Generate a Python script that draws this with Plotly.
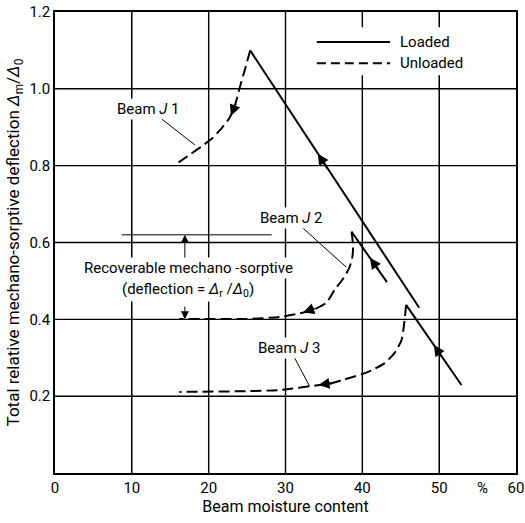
import plotly.graph_objects as go

# ---------------- data ----------------
x_ticks = [0, 10, 20, 30, 40, 50, 60]
x_tick_labels = ["0", "10", "20", "30", "40", "50", "60"]
y_ticks = [0.2, 0.4, 0.6, 0.8, 1.0, 1.2]
y_tick_labels = ["0.2", "0.4", "0.6", "0.8", "1.0", "1.2"]
x_range = [0, 60]
y_range = [0, 1.2]

# Loaded (solid) branches
j1_loaded_x = [25.4, 47.4]
j1_loaded_y = [1.10, 0.43]
j2_loaded_x = [38.6, 43.2]
j2_loaded_y = [0.628, 0.497]
j3_loaded_x = [45.7, 52.9]
j3_loaded_y = [0.4375, 0.229]

# Unloaded (dashed) branches
j1_unloaded_x = [25.4, 24.7, 24.0, 23.4, 22.7, 21.7, 20.5, 19.2, 17.5, 15.6]
j1_unloaded_y = [1.10, 1.049, 1.0, 0.956, 0.924, 0.898, 0.872, 0.852, 0.828, 0.802]
j2_unloaded_x = [38.6, 38.8, 38.7, 38.3, 37.4, 36.4, 35.3, 33.5, 32.2, 29.2, 24.9, 16.2]
j2_unloaded_y = [0.628, 0.589, 0.5625, 0.534, 0.503, 0.477, 0.443, 0.424, 0.417, 0.406, 0.401, 0.401]
j3_unloaded_x = [45.7, 45.45, 45.1, 44.2, 42.9, 41.3, 39.9, 37.4, 35.7, 34.4, 29.2, 24.9, 16.2]
j3_unloaded_y = [0.4375, 0.39, 0.346, 0.3125, 0.286, 0.268, 0.257, 0.242, 0.232, 0.229, 0.216, 0.213, 0.211]

# direction arrows on the curves: (tip_x, tip_y, tail_x, tail_y)
curve_arrows = [
    (34.2, 0.831, 35.6, 0.788),
    (41.0, 0.560, 42.2, 0.526),
    (49.3, 0.333, 50.5, 0.298),
    (22.9, 0.930, 23.6, 0.965),
    (32.3, 0.418, 34.0, 0.430),
    (34.3, 0.229, 36.2, 0.235),
]

# recoverable deflection marker
recov_line_x = [8.7, 28.2]
recov_line_y = [0.62, 0.62]
recov_arrow_x = 16.9
recov_up = (0.555, 0.62)      # tail, tip
recov_down = (0.4375, 0.40)   # tail, tip

# beam labels: (text, text_x, text_y, point_x, point_y)
beam_labels = [
    ("Beam <i>J</i> 1", 12.2, 0.948, 18.2, 0.854),
    ("Beam <i>J</i> 2", 30.8, 0.664, 37.9, 0.536),
    ("Beam <i>J</i> 3", 30.5, 0.326, 33.1, 0.227),
]

FONT = "Roboto, Liberation Sans, DejaVu Sans, sans-serif"
FS = 15
TICK_FS = 15
XTITLE_FS = 16
YTITLE_FS = 17

fig = go.Figure()

# grid lines, one trace each, drawn first so the data sit on top
grid_line = dict(color="black", width=1.4)
for v in x_ticks[1:-1]:
    fig.add_trace(go.Scatter(x=[v, v], y=[y_range[0], y_range[1]], mode="lines", line=grid_line,
                             showlegend=False, hoverinfo="skip"))
for v in y_ticks[:-1]:
    fig.add_trace(go.Scatter(x=[x_range[0], x_range[1]], y=[v, v], mode="lines", line=grid_line,
                             showlegend=False, hoverinfo="skip"))

solid = dict(color="black", width=2)
dashed = dict(color="black", width=2, dash="11px,5px", shape="spline", smoothing=0.6)

for xs, ys in [(j1_loaded_x, j1_loaded_y), (j2_loaded_x, j2_loaded_y), (j3_loaded_x, j3_loaded_y)]:
    fig.add_trace(go.Scatter(x=xs, y=ys, mode="lines", line=solid, showlegend=False, hoverinfo="skip"))
for xs, ys in [(j1_unloaded_x, j1_unloaded_y), (j2_unloaded_x, j2_unloaded_y), (j3_unloaded_x, j3_unloaded_y)]:
    fig.add_trace(go.Scatter(x=xs, y=ys, mode="lines", line=dashed, showlegend=False, hoverinfo="skip"))

fig.add_trace(go.Scatter(x=recov_line_x, y=recov_line_y, mode="lines",
                         line=dict(color="black", width=1), showlegend=False, hoverinfo="skip"))

txtfont = dict(family=FONT, size=FS, color="black")
annotations = []
for tx, ty, ax, ay in curve_arrows:
    annotations.append(dict(x=tx, y=ty, ax=ax, ay=ay, xref="x", yref="y", axref="x", ayref="y",
                            text="", showarrow=True, arrowhead=2, arrowsize=1.1, arrowwidth=2,
                            arrowcolor="black"))
for tail, tip in [recov_up, recov_down]:
    annotations.append(dict(x=recov_arrow_x, y=tip, ax=recov_arrow_x, ay=tail, xref="x", yref="y",
                            axref="x", ayref="y", text="", showarrow=True, arrowhead=2,
                            arrowsize=1.6, arrowwidth=1, arrowcolor="black"))
for txt, tx, ty, px, py in beam_labels:
    annotations.append(dict(x=px, y=py, ax=tx, ay=ty, xref="x", yref="y", axref="x", ayref="y",
                            text=txt, showarrow=True, arrowhead=0, arrowwidth=1, arrowcolor="black",
                            bgcolor="white", font=txtfont))
annotations.append(dict(x=17.4, y=0.534, xref="x", yref="y", text="Recoverable mechano -sorptive",
                        showarrow=False, bgcolor="white", font=txtfont))
annotations.append(dict(x=17.3, y=0.477, xref="x", yref="y",
                        text="(deflection = <i>Δ</i><sub>r</sub> /<i>Δ</i><sub>0</sub>)",
                        showarrow=False, bgcolor="white", font=txtfont))
annotations.append(dict(x=55.6, y=0, xref="x", yref="paper", yanchor="top", yshift=-4, text="%",
                        showarrow=False, font=dict(family=FONT, size=TICK_FS, color="black")))
# legend text
annotations.append(dict(x=0.744, y=0.935, xref="paper", yref="paper", xanchor="left", yanchor="middle",
                        text="Loaded", showarrow=False, font=txtfont))
annotations.append(dict(x=0.744, y=0.889, xref="paper", yref="paper", xanchor="left", yanchor="middle",
                        text="Unloaded", showarrow=False, font=txtfont))

shapes = [
    dict(type="rect", xref="paper", yref="paper", x0=0.553, x1=0.90, y0=0.863, y1=0.967,
         fillcolor="white", line=dict(width=0), layer="above"),
    dict(type="line", xref="paper", yref="paper", x0=0.568, x1=0.727, y0=0.935, y1=0.935,
         line=dict(color="black", width=2)),
    dict(type="line", xref="paper", yref="paper", x0=0.568, x1=0.727, y0=0.889, y1=0.889,
         line=dict(color="black", width=2, dash="9px,5px")),
]

axis_common = dict(showgrid=True, gridcolor="black", gridwidth=1, showline=True, linecolor="black",
                   linewidth=1.5, mirror=True, zeroline=False, ticks="", automargin=False,
                   tickfont=dict(family=FONT, size=TICK_FS, color="black"))

fig.update_layout(
    width=525, height=523,
    margin=dict(l=55, r=9, t=12, b=50),
    plot_bgcolor="white", paper_bgcolor="white",
    showlegend=False,
    font=dict(family=FONT, size=FS, color="black"),
    xaxis=dict(range=x_range, tickvals=x_ticks, ticktext=x_tick_labels,
               title=dict(text="Beam moisture content", font=dict(family=FONT, size=XTITLE_FS), standoff=0),
               **axis_common),
    yaxis=dict(range=y_range, tickvals=y_ticks, ticktext=y_tick_labels,
               title=dict(text="Total relative mechano-sorptive deflection <i>Δ</i><sub>m</sub>/<i>Δ</i><sub>0</sub>",
                          font=dict(family=FONT, size=YTITLE_FS), standoff=5),
               **axis_common),
    annotations=annotations,
    shapes=shapes,
)

fig.write_html("out.html", config={"displayModeBar": False},
               post_script="document.body.style.margin='0';")
